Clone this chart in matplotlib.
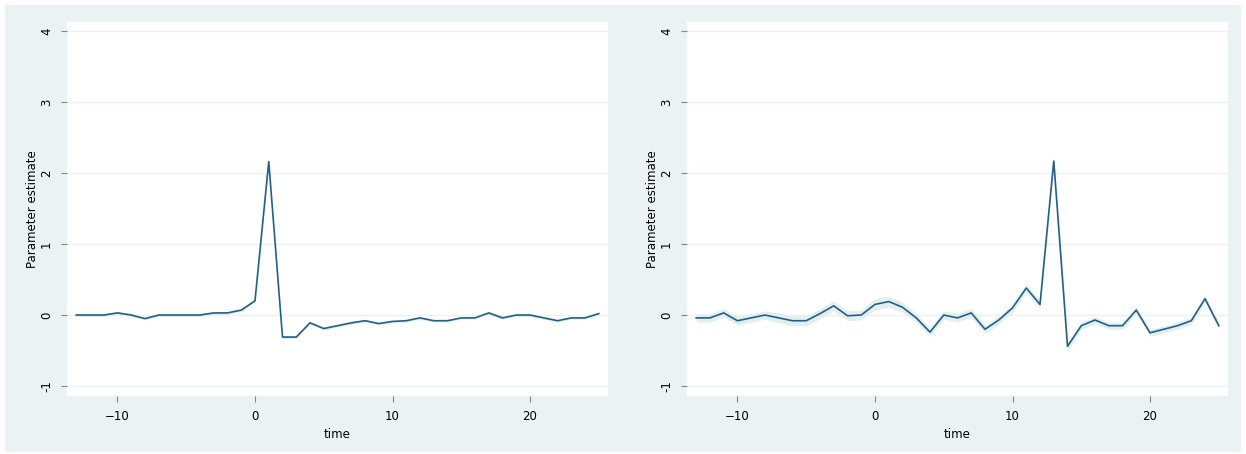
import numpy as np
import matplotlib.pyplot as plt
from matplotlib.patches import Rectangle

# event time and coefficient estimates for the two specifications
time = list(range(-13, 26))

est_left = [0.00, 0.00, 0.00, 0.03, 0.00, -0.05, 0.00, 0.00, 0.00, 0.00,
            0.03, 0.03, 0.07, 0.20, 2.16, -0.31, -0.31, -0.11, -0.19, -0.15,
            -0.11, -0.08, -0.12, -0.09, -0.08, -0.04, -0.08, -0.08, -0.04, -0.04,
            0.03, -0.04, 0.00, 0.00, -0.04, -0.08, -0.04, -0.04, 0.02]
ci_left = [0.02, 0.02, 0.02, 0.02, 0.02, 0.02, 0.02, 0.02, 0.02, 0.02,
           0.02, 0.02, 0.02, 0.02, 0.03, 0.02, 0.02, 0.02, 0.02, 0.02,
           0.02, 0.02, 0.02, 0.02, 0.02, 0.02, 0.02, 0.02, 0.02, 0.02,
           0.02, 0.02, 0.02, 0.02, 0.02, 0.02, 0.02, 0.02, 0.02]

est_right = [-0.04, -0.04, 0.03, -0.08, -0.04, 0.00, -0.04, -0.08, -0.08, 0.02,
             0.13, -0.01, 0.00, 0.15, 0.19, 0.11, -0.04, -0.24, 0.00, -0.04,
             0.03, -0.20, -0.07, 0.10, 0.38, 0.15, 2.17, -0.44, -0.15, -0.07,
             -0.15, -0.15, 0.07, -0.25, -0.20, -0.15, -0.08, 0.23, -0.15]
ci_right = [0.06, 0.06, 0.06, 0.06, 0.06, 0.06, 0.07, 0.07, 0.07, 0.07,
            0.07, 0.07, 0.07, 0.08, 0.08, 0.07, 0.06, 0.06, 0.06, 0.06,
            0.06, 0.06, 0.06, 0.06, 0.06, 0.06, 0.06, 0.06, 0.05, 0.05,
            0.05, 0.05, 0.05, 0.05, 0.05, 0.05, 0.05, 0.05, 0.05]

yticks = [-1, 0, 1, 2, 3, 4]
xticks = [-10, 0, 10, 20]

bg = '#eaf2f3'
navy = '#245f86'

fig = plt.figure(figsize=(12.46, 4.54), dpi=100, facecolor='white')
fig.patches.append(Rectangle((5 / 1246, 2 / 454), 1236 / 1246, 447 / 454,
                             transform=fig.transFigure, facecolor=bg,
                             edgecolor='none', zorder=-10))

panels = [(67, est_left, ci_left), (687, est_right, ci_right)]
for left_px, est, ci in panels:
    ax = fig.add_axes([left_px / 1246, 1 - 396 / 454, 541 / 1246, 374 / 454])
    ax.set_facecolor('white')
    t = np.array(time)
    b = np.array(est)
    w = np.array(ci)
    ax.fill_between(t, b - w, b + w, color='#e2eff1', linewidth=0, zorder=2)
    ax.plot(t, b, color=navy, lw=1.2, zorder=3)

    ax.set_xlim(-13.67, 25.67)
    ax.set_ylim(-1.14, 4.127)
    ax.set_yticks(yticks)
    ax.set_yticklabels([str(v) for v in yticks], rotation=90, va='center')
    ax.set_xticks(xticks)
    ax.grid(axis='y', color=bg, lw=1.0, zorder=1)
    ax.set_axisbelow(True)
    for s in ax.spines.values():
        s.set_visible(False)
    ax.tick_params(axis='both', length=4, width=0.8, color='#888888',
                   labelsize=8.5, pad=6)
    ax.set_xlabel('time', fontsize=8.5, labelpad=4)
    ax.set_ylabel('Parameter estimate', fontsize=8.5, labelpad=1)

fig.savefig('out.png', dpi=100, facecolor='white')
